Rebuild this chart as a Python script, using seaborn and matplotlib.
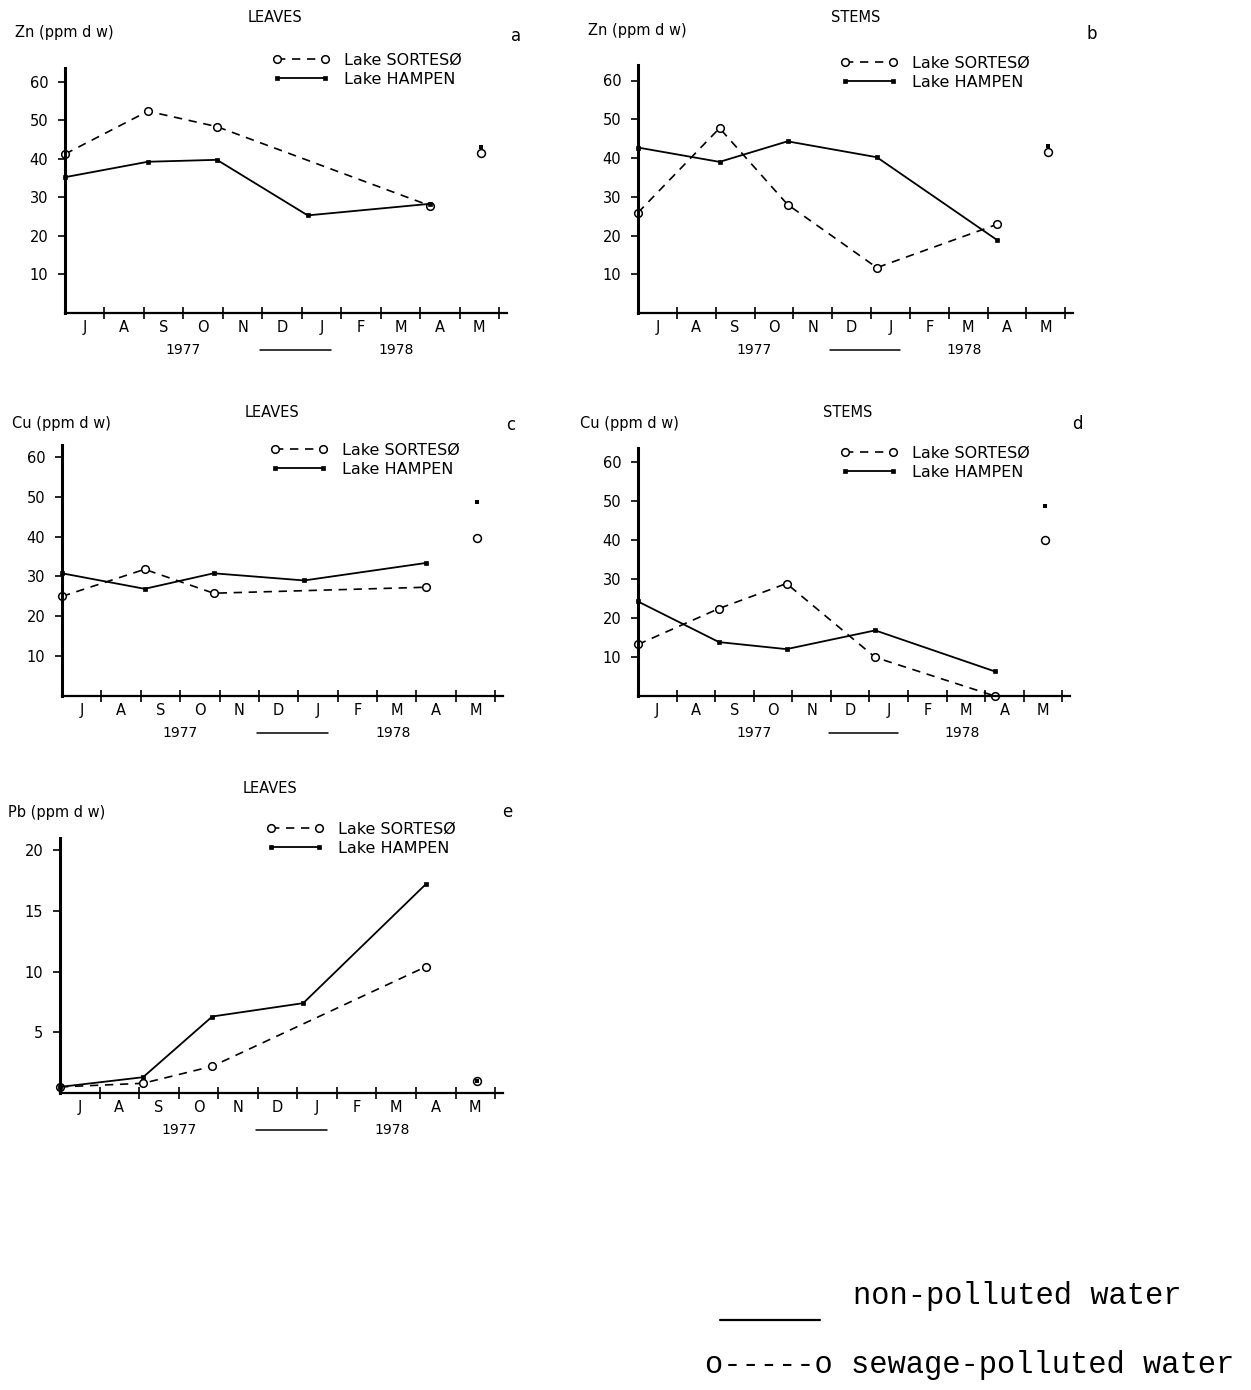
import matplotlib
matplotlib.use("Agg")
import matplotlib.pyplot as plt
from matplotlib import transforms
from matplotlib.lines import Line2D
import seaborn as sns

# sampling dates, in months after 1 July 1977
x_all = [0.0, 2.1, 3.85, 6.15, 9.25]
x_nojan = [0.0, 2.1, 3.85, 9.25]
x_may = [10.55]

month_labels = ["J", "A", "S", "O", "N", "D", "J", "F", "M", "A", "M"]

# Zn, leaves
zn_leaves_sorteso = [41.2, 52.3, 48.3, 27.8]
zn_leaves_hampen = [35.2, 39.2, 39.7, 25.3, 28.3]
zn_leaves_may = [41.5, 43.0]      # sorteso, hampen
# Zn, stems
zn_stems_sorteso = [25.9, 47.7, 28.0, 11.7, 22.9]
zn_stems_hampen = [42.7, 39.0, 44.3, 40.2, 18.8]
zn_stems_may = [41.5, 43.0]
# Cu, leaves
cu_leaves_sorteso = [25.0, 31.8, 25.8, 27.3]
cu_leaves_hampen = [30.8, 26.9, 30.8, 29.0, 33.4]
cu_leaves_may = [39.6, 48.6]
# Cu, stems
cu_stems_sorteso = [13.2, 22.4, 28.8, 9.9, 0.0]
cu_stems_hampen = [24.2, 13.8, 12.0, 16.8, 6.3]
cu_stems_may = [40.0, 48.7]
# Pb, leaves
pb_leaves_sorteso = [0.5, 0.8, 2.2, 10.4]
pb_leaves_hampen = [0.5, 1.3, 6.3, 7.4, 17.2]
pb_leaves_may = [1.0, 1.0]

sns.set_style("ticks")
plt.rcParams["font.family"] = ["DejaVu Sans"]
for key in ["text.color", "axes.labelcolor", "xtick.color", "ytick.color",
            "axes.edgecolor"]:
    plt.rcParams[key] = "black"

W, H = 1251, 1390
fig = plt.figure(figsize=(W / 100, H / 100), dpi=100)


def fx(x):
    return x / W


def fy(y):
    return 1 - y / H


def panel(box, ylim, yticks, sort_x, sort_y, hamp_y, may, ylab, title, letter, txt):
    l, t, r, b = box
    ax = fig.add_axes([fx(l), fy(b), (r - l) / W, (b - t) / H])

    sns.lineplot(x=sort_x, y=sort_y, ax=ax, color="k", lw=1.2, dashes=False,
                 linestyle=(0, (5, 4)), marker="o", markersize=5.5,
                 markerfacecolor="white", markeredgecolor="k",
                 markeredgewidth=1.1, label="Lake SORTESØ", legend=False,
                 errorbar=None, clip_on=False)
    sns.lineplot(x=x_all, y=hamp_y, ax=ax, color="k", lw=1.3, marker="s",
                 markersize=3, markerfacecolor="k", markeredgecolor="k",
                 markeredgewidth=0.5, label="Lake HAMPEN", legend=False,
                 errorbar=None, clip_on=False)
    handles = list(ax.lines[:2])

    sns.scatterplot(x=x_may, y=[may[0]], ax=ax, marker="o", s=32,
                    facecolor="white", edgecolor="k", linewidth=1.1,
                    legend=False, zorder=3)
    sns.scatterplot(x=x_may, y=[may[1]], ax=ax, marker="s", s=9,
                    color="k", linewidth=0, legend=False, zorder=4)

    ax.set_xlim(0, 11.2)
    ax.set_ylim(*ylim)
    ax.set_xticks(range(1, 12))
    ax.set_xticklabels([])
    ax.set_xticks([i + 0.5 for i in range(11)], minor=True)
    ax.set_xticklabels(month_labels, minor=True)
    ax.set_yticks(yticks)
    ax.set_yticklabels([str(v) for v in yticks])
    ax.tick_params(axis="x", which="major", direction="inout", length=8,
                   width=1.2, color="k")
    ax.tick_params(axis="x", which="minor", length=0, pad=5, labelsize=10.5)
    ax.tick_params(axis="y", direction="out", length=5, width=1.2, pad=7,
                   labelsize=10.5, color="k")
    ax.set_xlabel("")
    ax.set_ylabel("")
    sns.despine(ax=ax)
    ax.spines["left"].set_linewidth(2.2)
    ax.spines["bottom"].set_linewidth(1.6)

    # year annotation under the months
    base = transforms.blended_transform_factory(ax.transData, ax.transAxes)
    off = transforms.offset_copy(base, fig=fig, y=-37, units="dots")
    ax.text(3.0, 0, "1977", transform=off, ha="center", va="center",
            fontsize=10)
    ax.text(8.4, 0, "1978", transform=off, ha="center", va="center",
            fontsize=10)
    ax.plot([4.95, 6.75], [0, 0], transform=off, color="k", lw=1.1,
            clip_on=False)

    ax.legend(handles, [h.get_label() for h in handles], loc="upper left",
              bbox_to_anchor=(fx(txt["leg"][0]), fy(txt["leg"][1])),
              bbox_transform=fig.transFigure, frameon=False, numpoints=2,
              handlelength=3.6, handletextpad=0.9, labelspacing=0.25,
              borderpad=0, borderaxespad=0, fontsize=11.5)

    fig.text(fx(txt["ylab"][0]), fy(txt["ylab"][1]), ylab, ha="left",
             va="center", fontsize=10.5)
    fig.text(fx(txt["title"][0]), fy(txt["title"][1]), title, ha="center",
             va="center", fontsize=10.5)
    fig.text(fx(txt["letter"][0]), fy(txt["letter"][1]), letter,
             ha="center", va="center", fontsize=12)
    return ax


panel((65, 68, 507, 313), (0, 63.5), [10, 20, 30, 40, 50, 60],
      x_nojan, zn_leaves_sorteso, zn_leaves_hampen, zn_leaves_may,
      "Zn (ppm d w)", "LEAVES", "a",
      {"leg": (272, 53), "ylab": (15, 32), "title": (275, 18),
       "letter": (516, 36)})

panel((638, 65, 1073, 313), (0, 64), [10, 20, 30, 40, 50, 60],
      x_all, zn_stems_sorteso, zn_stems_hampen, zn_stems_may,
      "Zn (ppm d w)", "STEMS", "b",
      {"leg": (840, 56), "ylab": (588, 31), "title": (856, 18),
       "letter": (1092, 34)})

panel((62, 445, 503, 696), (0, 63), [10, 20, 30, 40, 50, 60],
      x_nojan, cu_leaves_sorteso, cu_leaves_hampen, cu_leaves_may,
      "Cu (ppm d w)", "LEAVES", "c",
      {"leg": (270, 443), "ylab": (12, 424), "title": (272, 412),
       "letter": (511, 425)})

panel((638, 448, 1070, 696), (0, 63.5), [10, 20, 30, 40, 50, 60],
      x_all, cu_stems_sorteso, cu_stems_hampen, cu_stems_may,
      "Cu (ppm d w)", "STEMS", "d",
      {"leg": (840, 446), "ylab": (580, 424), "title": (848, 412),
       "letter": (1077, 424)})

panel((60, 838, 503, 1093), (0, 21), [5, 10, 15, 20],
      x_nojan, pb_leaves_sorteso, pb_leaves_hampen, pb_leaves_may,
      "Pb (ppm d w)", "LEAVES", "e",
      {"leg": (266, 822), "ylab": (8, 812), "title": (270, 789),
       "letter": (507, 812)})

# key at the bottom right
fig.add_artist(Line2D([fx(720), fx(820)], [fy(1320), fy(1320)], color="k",
                      lw=1.6))
fig.text(fx(853), fy(1296), "non-polluted water", family="Liberation Mono",
         fontsize=22, ha="left", va="center")
fig.text(fx(705), fy(1365), "o-----o sewage-polluted water",
         family="Liberation Mono", fontsize=22, ha="left", va="center")

fig.savefig("out.png", dpi=100)
